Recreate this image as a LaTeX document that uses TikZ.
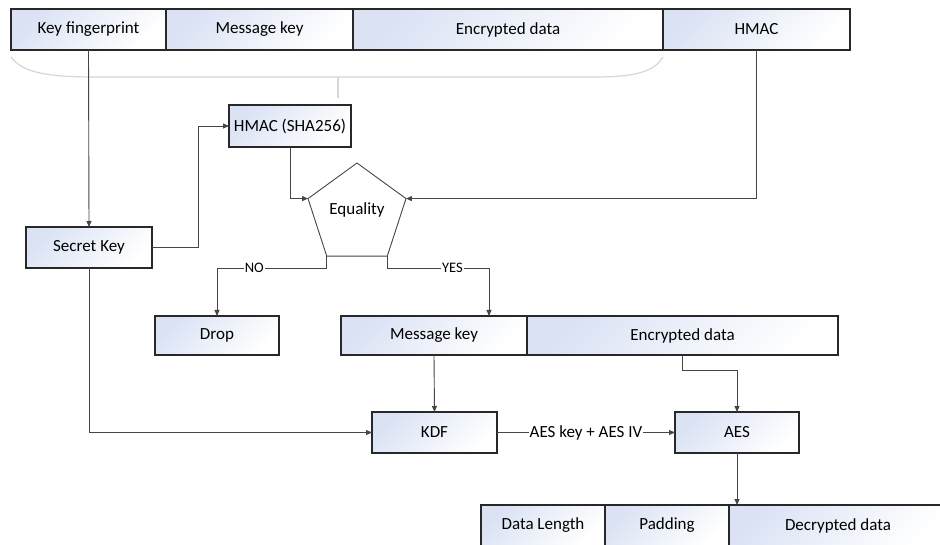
\documentclass[tikz,border=0pt]{standalone}
\usepackage{fontspec}
\setmainfont{Carlito}
\usetikzlibrary{shapes.geometric,arrows.meta}
\definecolor{gradc}{RGB}{218,226,244}
\definecolor{boxc}{RGB}{40,40,40}
\definecolor{connc}{RGB}{70,70,70}
\definecolor{bracec}{RGB}{215,215,215}
\tikzset{
  box/.style={draw=boxc, line width=1.2pt, top color=gradc, bottom color=white, shading angle=45,
    minimum height=41pt, inner sep=0pt, outer sep=0pt, font=\fontsize{17}{20}\selectfont},
  conn/.style={draw=connc, line width=0.9pt, -{Triangle[length=6pt,width=5pt]}},
  lbl/.style={fill=white, inner sep=1pt, font=\fontsize{17}{20}\selectfont},
  slbl/.style={fill=white, inner sep=1pt, font=\fontsize{14.5}{17}\selectfont},
  penta/.style={draw=connc, line width=0.9pt, fill=white, regular polygon, regular polygon sides=5,
    minimum size=103pt, inner sep=0pt, outer sep=0pt, font=\fontsize{17}{20}\selectfont}
}
\begin{document}
\begin{tikzpicture}[x=1pt,y=-1pt]
\clip (0,0) rectangle (940,545);
\fill[white] (0,0) rectangle (940,545);
% brace
\draw[bracec, line width=1.2pt] (11,57) .. controls (22,72) and (45,77) .. (95,77) -- (595,77) .. controls (640,77) and (655,70) .. (663,57);
\draw[bracec, line width=1.2pt] (338,77) -- (338,98);
% top row
\node[box, minimum width=155pt] (kf) at (88.5,29.5) {Key fingerprint};
\node[box, minimum width=187pt] (mk) at (259.5,29.5) {Message key};
\node[box, minimum width=310pt] (ed) at (508,29.5) {Encrypted data};
\node[box, minimum width=187pt] (hmac) at (756.5,29.5) {HMAC};
% middle
\node[box, minimum width=126pt] (sk) at (89,247.5) {Secret Key};
\node[box, minimum width=122pt, minimum height=42pt] (hs) at (290,126) {HMAC (SHA256)};
\node[penta] (eq) at (357,214.5) {};
\node[font=\fontsize{17}{20}\selectfont] (eqt) at (357,210) {Equality};
\node[box, minimum width=124pt, minimum height=39pt] (drop) at (217,335.5) {Drop};
\node[box, minimum width=186pt, minimum height=39pt] (mk2) at (434,335.5) {Message key};
\node[box, minimum width=311pt, minimum height=39pt] (ed2) at (682.5,335.5) {Encrypted data};
\node[box, minimum width=125pt] (kdf) at (434.5,432.5) {KDF};
\node[box, minimum width=124pt] (aes) at (737,432.5) {AES};
% bottom
\node[box, minimum width=124pt] (dl) at (543,525.5) {Data Length};
\node[box, minimum width=124pt] (pad) at (667,525.5) {Padding};
\node[box, minimum width=218pt] (dd) at (838,525.5) {Decrypted data};
% connectors
\draw[conn] (kf.south) -- (sk.north);
\draw[conn] (sk.east) -- ++(46,0) |- (hs.west);
\draw[conn] (hs.south) |- (eq.corner 2);
\draw[conn] (hmac.south) |- (eq.corner 5);
\draw[conn] (eq.corner 3) -- ++(0,12) -| node[slbl, pos=0.33]{NO} (drop.north);
\draw[conn] (eq.corner 4) -- ++(0,12) -| node[slbl, pos=0.32]{YES} ([xshift=-38pt]mk2.north east);
\draw[conn] (mk2.south) -- (kdf.north);
\draw[conn] (ed2.south) -- ++(0,15) -| (aes.north);
\draw[conn] (sk.south) |- (kdf.west);
\draw[conn] (kdf.east) -- node[lbl]{AES key + AES IV} (aes.west);
\draw[conn] (aes.south) -- (aes.south |- dd.north);
\end{tikzpicture}
\end{document}
